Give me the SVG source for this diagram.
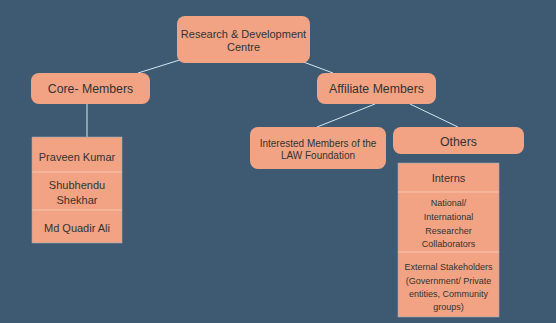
<svg xmlns="http://www.w3.org/2000/svg" width="556" height="323" viewBox="0 0 556 323">
  <style>
    .node { fill: #f2a383; }
    .box { fill: #f2a383; stroke: #9aaab8; stroke-width: 0.6; }
    .div { stroke: #f7c6b1; stroke-width: 1; }
    .link { stroke: #d6e6f0; stroke-width: 1; fill: none; }
    text { font-family: "Liberation Sans", Arial, sans-serif; fill: #333333; text-anchor: middle; }
    .t13 { font-size: 12.3px; }
    .t11 { font-size: 11px; }
    .t10 { font-size: 10px; }
    .t9 { font-size: 9px; }
  </style>
  <rect width="556" height="323" fill="#3d5a72"/>

  <g id="connectors">
    <line class="link" x1="186" y1="58" x2="138" y2="73"/>
    <line class="link" x1="298" y1="60" x2="333" y2="73"/>
    <line class="link" x1="87" y1="104" x2="87" y2="137"/>
    <line class="link" x1="375" y1="104" x2="317" y2="127"/>
    <line class="link" x1="410" y1="104" x2="458" y2="127"/>
  </g>

  <g id="rd-centre">
    <rect class="node" x="177" y="16" width="133" height="47" rx="8"/>
    <text class="t11" x="243.5" y="38">Research &amp; Development</text>
    <text class="t11" x="243.5" y="51">Centre</text>
  </g>

  <g id="core-members">
    <rect class="node" x="31" y="73" width="119" height="31" rx="8"/>
    <text class="t13" x="90.5" y="93">Core- Members</text>
  </g>

  <g id="affiliate-members">
    <rect class="node" x="317" y="73" width="119" height="31" rx="8"/>
    <text class="t13" x="376.5" y="93">Affiliate Members</text>
  </g>

  <g id="interested-members">
    <rect class="node" x="250" y="127" width="136" height="42" rx="8"/>
    <text class="t10" x="318" y="147">Interested Members of the</text>
    <text class="t10" x="318" y="159">LAW Foundation</text>
  </g>

  <g id="others">
    <rect class="node" x="393" y="127" width="131" height="27" rx="8"/>
    <text class="t13" x="458.5" y="145.5">Others</text>
  </g>

  <g id="core-list">
    <rect class="box" x="32" y="137" width="90" height="106"/>
    <line class="div" x1="32" y1="172" x2="122" y2="172"/>
    <line class="div" x1="32" y1="210" x2="122" y2="210"/>
    <text class="t11" x="77" y="161">Praveen Kumar</text>
    <text class="t11" x="77" y="189">Shubhendu</text>
    <text class="t11" x="77" y="204">Shekhar</text>
    <text class="t11" x="77" y="232">Md Quadir Ali</text>
  </g>

  <g id="others-list">
    <rect class="box" x="398" y="163" width="101" height="154"/>
    <line class="div" x1="398" y1="192" x2="499" y2="192"/>
    <line class="div" x1="398" y1="252" x2="499" y2="252"/>
    <text class="t11" x="448.5" y="182">Interns</text>
    <text class="t9" x="448.5" y="206">National/</text>
    <text class="t9" x="448.5" y="220">International</text>
    <text class="t9" x="448.5" y="234">Researcher</text>
    <text class="t9" x="448.5" y="247">Collaborators</text>
    <text class="t9" x="448.5" y="270">External Stakeholders</text>
    <text class="t9" x="448.5" y="283.5">(Government/ Private</text>
    <text class="t9" x="448.5" y="297">entities, Community</text>
    <text class="t9" x="448.5" y="310">groups)</text>
  </g>
</svg>
